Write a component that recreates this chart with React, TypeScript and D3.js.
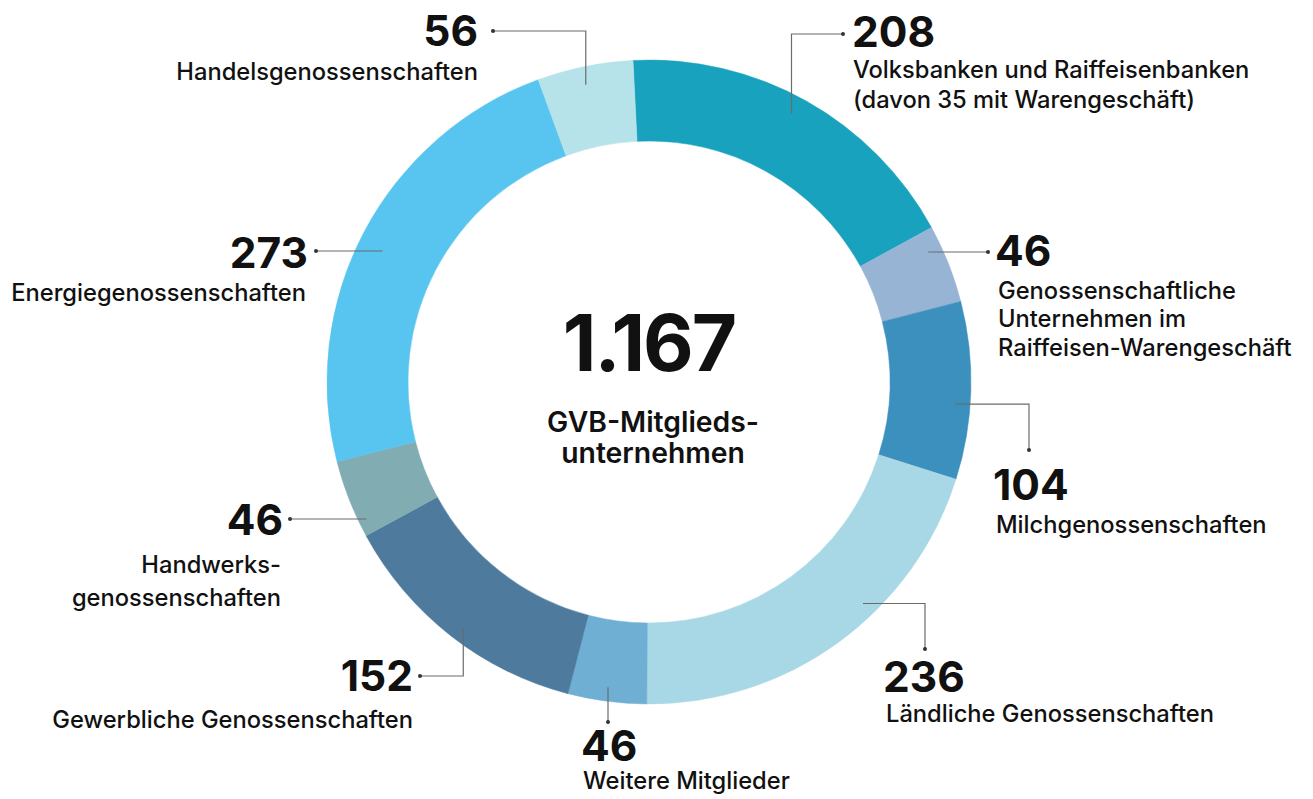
import React from "react";
import * as d3 from "d3";

// ---- data ----
const categories: string[] = [
  "Volksbanken und Raiffeisenbanken",
  "Genossenschaftliche Unternehmen im Raiffeisen-Warengeschäft",
  "Milchgenossenschaften",
  "Ländliche Genossenschaften",
  "Weitere Mitglieder",
  "Gewerbliche Genossenschaften",
  "Handwerksgenossenschaften",
  "Energiegenossenschaften",
  "Handelsgenossenschaften",
];
const values: number[] = [208, 46, 104, 236, 46, 152, 46, 273, 56];
const labelLines: string[][] = [
  ["Volksbanken und Raiffeisenbanken", "(davon 35 mit Warengeschäft)"],
  ["Genossenschaftliche", "Unternehmen im", "Raiffeisen-Warengeschäft"],
  ["Milchgenossenschaften"],
  ["Ländliche Genossenschaften"],
  ["Weitere Mitglieder"],
  ["Gewerbliche Genossenschaften"],
  ["Handwerks-", "genossenschaften"],
  ["Energiegenossenschaften"],
  ["Handelsgenossenschaften"],
];
const totalLabel = "1.167";
const centerLines: string[] = ["GVB-Mitglieds-", "unternehmen"];

// ---- styles ----
const colors: string[] = [
  "#18a2bd",
  "#98b4d4",
  "#3b90be",
  "#a8d8e5",
  "#6fafd4",
  "#4e7b9d",
  "#81acb2",
  "#57c5f0",
  "#b6e2e9",
];

const W = 1313;
const H = 799;
const cx = 649;
const cy = 382;
const outerR = 322;
const innerR = 241;
const startOffset = -0.0497;

type Route = "vh" | "hv" | "h" | "v";
interface LabelLayout {
  route: Route;
  t: number; // fraction within slice angle for anchor
  r: number; // anchor radius
  dotX: number;
  dotY: number;
  anchor: "start" | "end";
  textX: number;
  numY: number;
  lineX: number;
  lineY: number[];
}

const layouts: LabelLayout[] = [
  { route: "vh", t: 0.48, r: 304, dotX: 843, dotY: 34, anchor: "start", textX: 852, numY: 47, lineX: 853, lineY: [78, 108] },
  { route: "h", t: 0.5, r: 308, dotX: 988, dotY: 252, anchor: "start", textX: 995, numY: 266, lineX: 998, lineY: [299, 327, 356] },
  { route: "hv", t: 0.58, r: 307, dotX: 1029, dotY: 450, anchor: "start", textX: 993, numY: 500, lineX: 996, lineY: [533] },
  { route: "hv", t: 0.39, r: 308, dotX: 925, dotY: 649, anchor: "start", textX: 883, numY: 692, lineX: 886, lineY: [722] },
  { route: "v", t: 0.51, r: 308, dotX: 608, dotY: 722, anchor: "start", textX: 581, numY: 761, lineX: 583, lineY: [789] },
  { route: "vh", t: 0.48, r: 308, dotX: 420, dotY: 676, anchor: "end", textX: 413, numY: 691, lineX: 413, lineY: [728] },
  { route: "h", t: 0.5, r: 314, dotX: 290, dotY: 519, anchor: "end", textX: 283, numY: 535, lineX: 281, lineY: [573, 606] },
  { route: "h", t: 0.5, r: 297, dotX: 316, dotY: 251, anchor: "end", textX: 308, numY: 268, lineX: 306, lineY: [301] },
  { route: "vh", t: 0.47, r: 304, dotX: 493, dotY: 31, anchor: "end", textX: 478, numY: 46, lineX: 478, lineY: [80] },
];

const FONT = "Inter, 'Noto Sans', sans-serif";

export default function App() {
  const pie = d3
    .pie<number>()
    .sort(null)
    .value((d) => d)
    .startAngle(startOffset)
    .endAngle(Math.PI * 2 + startOffset);
  const arcs = pie(values);
  const arc = d3.arc<d3.PieArcDatum<number>>().innerRadius(innerR).outerRadius(outerR);

  const leaderPath = (i: number): string => {
    const a = arcs[i];
    const L = layouts[i];
    const ang = a.startAngle + (a.endAngle - a.startAngle) * L.t;
    let ax = cx + L.r * Math.sin(ang);
    let ay = cy - L.r * Math.cos(ang);
    const p = d3.path();
    if (L.route === "h") {
      const dy = L.dotY - cy;
      const dx = Math.sqrt(Math.max(0, L.r * L.r - dy * dy));
      ax = cx + (Math.sin(ang) >= 0 ? dx : -dx);
      ay = L.dotY;
      p.moveTo(ax, ay);
      p.lineTo(L.dotX, L.dotY);
    } else if (L.route === "v") {
      p.moveTo(L.dotX, ay);
      p.lineTo(L.dotX, L.dotY);
    } else if (L.route === "vh") {
      p.moveTo(ax, ay);
      p.lineTo(ax, L.dotY);
      p.lineTo(L.dotX, L.dotY);
    } else {
      p.moveTo(ax, ay);
      p.lineTo(L.dotX, ay);
      p.lineTo(L.dotX, L.dotY);
    }
    return p.toString();
  };

  return (
    <svg
      width={W}
      height={H}
      viewBox={`0 0 ${W} ${H}`}
      style={{ position: "absolute", left: 0, top: 0, background: "#fff" }}
      fontFamily={FONT}
    >
      <g transform={`translate(${cx},${cy})`}>
        {arcs.map((a, i) => (
          <path key={categories[i]} d={arc(a) || ""} fill={colors[i]} stroke={colors[i]} strokeWidth={0.5} />
        ))}
      </g>
      {arcs.map((_, i) => {
        const L = layouts[i];
        return (
          <g key={"lab" + i}>
            <path d={leaderPath(i)} fill="none" stroke="#6b6b6b" strokeWidth={1.2} />
            <circle cx={L.dotX} cy={L.dotY} r={2} fill="#333" />
            <text
              x={L.textX}
              y={L.numY}
              textAnchor={L.anchor}
              fontSize={42.5}
              fontWeight={700}
              fill="#111"
            >
              {values[i]}
            </text>
            {labelLines[i].map((ln, j) => (
              <text
                key={j}
                x={L.lineX}
                y={L.lineY[j]}
                textAnchor={L.anchor}
                fontSize={23.7}
                fontWeight={500}
                fill="#111"
              >
                {ln}
              </text>
            ))}
          </g>
        );
      })}
      <text x={cx} y={371} textAnchor="middle" fontSize={78} fontWeight={700} fill="#111" letterSpacing={-2}>
        {totalLabel}
      </text>
      {centerLines.map((ln, j) => (
        <text key={ln} x={cx + 4} y={432 + j * 31} textAnchor="middle" fontSize={28.3} fontWeight={600} fill="#111">
          {ln}
        </text>
      ))}
    </svg>
  );
}
